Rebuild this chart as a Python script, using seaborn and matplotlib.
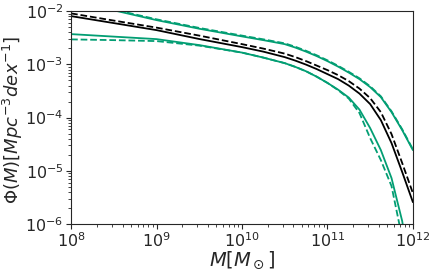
import numpy as np
import pandas as pd
import matplotlib
matplotlib.use('Agg')
import matplotlib.pyplot as plt
import seaborn as sns

# log10 of stellar mass grid
log_m = [8.0, 8.5, 9.0, 9.5, 10.0, 10.25, 10.5, 10.625, 10.75, 10.875,
         11.0, 11.125, 11.25, 11.375, 11.5, 11.625, 11.75, 11.875, 12.0]

# log10 Phi
black_solid = [-2.094, -2.225, -2.357, -2.524, -2.676, -2.761, -2.864, -2.930, -3.005, -3.089,
               -3.183, -3.277, -3.399, -3.549, -3.746, -4.047, -4.479, -5.023, -5.587]
black_dashed = [-2.043, -2.178, -2.310, -2.460, -2.620, -2.704, -2.798, -2.864, -2.939, -3.023,
                -3.108, -3.202, -3.315, -3.455, -3.634, -3.897, -4.310, -4.854, -5.418]
green_up_solid = [-1.799, -1.985, -2.169, -2.331, -2.475, -2.545, -2.620, -2.685, -2.761, -2.845,
                  -2.939, -3.042, -3.155, -3.277, -3.427, -3.615, -3.897, -4.235, -4.610]
green_up_dashed = [-1.784, -1.970, -2.154, -2.316, -2.460, -2.530, -2.605, -2.670, -2.746, -2.830,
                   -2.924, -3.027, -3.140, -3.262, -3.412, -3.600, -3.882, -4.220, -4.595]
green_lo_solid = [-2.432, -2.479, -2.526, -2.638, -2.779, -2.873, -2.977, -3.048, -3.130, -3.232,
                  -3.348, -3.476, -3.624, -3.850, -4.197, -4.610, -5.136, -5.944, -7.239]
green_lo_dashed = [-2.531, -2.545, -2.563, -2.648, -2.779, -2.873, -2.977, -3.048, -3.130, -3.232,
                   -3.348, -3.484, -3.643, -3.915, -4.385, -4.798, -5.286, -6.263, -7.615]

green = '#029e73'

sns.set_style('ticks')

fig = plt.figure(figsize=(4.36, 2.71), dpi=100)
ax = fig.add_axes([0.163, 0.173, 0.784, 0.786])

m = 10 ** np.array(log_m)
curves = [
    (green_up_solid, green, '-'),
    (green_up_dashed, green, '--'),
    (green_lo_solid, green, '-'),
    (green_lo_dashed, green, '--'),
    (black_solid, 'black', '-'),
    (black_dashed, 'black', '--'),
]
for vals, col, ls in curves:
    sns.lineplot(x=m, y=10 ** np.array(vals), color=col, linestyle=ls, linewidth=1.3, ax=ax)

ax.set_xscale('log')
ax.set_yscale('log')
ax.set_xlim(1e8, 1e12)
ax.set_ylim(1e-6, 1e-2)
ax.set_xlabel(r'$M [M_\odot]$', fontsize=14, labelpad=-1)
ax.set_ylabel(r'$\Phi(M) [Mpc^{-3} dex^{-1}]$', fontsize=13)
ax.yaxis.set_label_coords(-0.135, 0.49)
ax.tick_params(labelsize=11.5, pad=2)

fig.savefig('out.png', dpi=100)
